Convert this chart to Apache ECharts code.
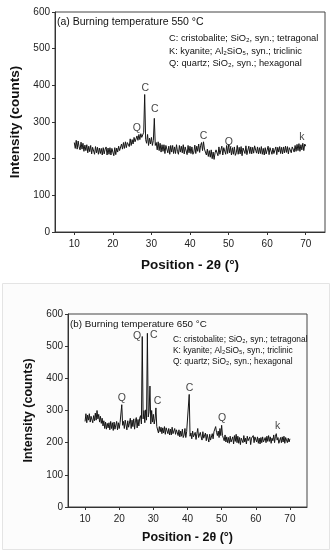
<!DOCTYPE html>
<html><head><meta charset="utf-8">
<script src="https://cdn.jsdelivr.net/npm/echarts@6/dist/echarts.min.js"></script>
<style>html,body{margin:0;padding:0;background:#fff}#c{width:332px;height:550px}</style>
</head><body><div id="c"></div>
<script>
// sampling grid: 10° to 70° every 0.25°
const xStart = 10, xStep = 0.25;

const intensity550 = [
 244,228,250,226, 248,232,224,245, 226,242,220,237, 222,238,216,234,
 219,236,213,231, 230,212,233,216, 231,212,229,214, 228,210,230,213,
 226,232,210,229, 212,230,210,228, 226,208,230,211, 229,218,234,222,
 224,240,226,244, 228,246,230,244, 249,233,254,236, 252,240,258,246,
 244,262,250,266, 252,268,258,262, 272,375,252,242, 266,236,256,240,
 258,236,250,310, 236,244,224,246, 222,242,218,238, 220,238,214,236,
 240,216,234,212, 236,218,236,214, 232,214,238,220, 212,236,218,234,
 216,238,213,232, 230,211,236,216, 234,214,232,212, 218,237,214,234,
 220,240,217,236, 244,222,246,226, 228,210,226,206, 222,204,224,200,
 218,198,216,224, 226,208,232,212, 214,234,210,230, 230,212,236,214,
 238,216,232,210, 230,212,232,209, 216,236,212,231, 213,233,208,229,
 232,214,235,211, 216,234,214,232, 213,231,215,235, 236,215,232,213,
 230,214,233,212, 228,210,230,213, 215,234,211,230, 231,212,229,214,
 216,232,211,231, 218,233,214,231, 213,232,216,234, 217,233,213,230,
 235,216,232,226, 218,236,220,239, 222,241,220,238, 224,242,222,240,
 234
];

const intensity650 = [
 266,290,262,286, 270,290,264,282, 286,262,284,268, 292,270,300,274,
 288,264,282,260, 276,252,268,244, 264,242,260,246, 262,240,266,244,
 262,238,264,242, 246,266,240,262, 244,262,258,318, 254,266,244,270,
 276,240,268,248, 252,276,244,270, 250,274,242,268, 278,246,272,252,
 276,284,258,530, 274,300,262,302, 270,540,280,296, 376,258,300,264,
 288,258,274,308, 250,246,230,250, 234,248,228,246, 230,250,226,246,
 248,228,244,224, 242,224,248,228, 222,244,226,240, 246,222,240,218,
 236,220,242,216, 224,244,216,234, 228,238,350,220, 230,212,236,218,
 214,232,210,228, 244,216,214,232, 218,208,234,214, 212,230,206,226,
 222,202,226,208, 206,228,212,234, 230,250,232,222, 236,216,244,222,
 254,222,214,206, 224,202,218,200, 216,198,220,202, 200,218,196,222,
 204,226,200,220, 198,216,194,214, 218,200,222,202, 214,196,220,206,
 200,218,194,214, 216,222,200,218, 220,202,218,198, 214,196,216,200,
 218,202,196,216, 200,220,204,222, 204,218,198,214, 206,224,200,220,
 228,208,216,198, 194,216,200,218, 202,220,198,216, 218,200,214,202,
 212
];

const xTicks = [10, 20, 30, 40, 50, 60, 70];

const peaks550 = [
 [26.2, 283, 'Q'], [28.4, 392, 'C'], [30.9, 335, 'C'],
 [43.5, 262, 'C'], [50.1, 245, 'Q'], [69.0, 260, 'k']
];
const peaks650 = [
 [20.8, 338, 'Q'], [25.2, 530, 'Q'], [30.1, 535, 'C'],
 [31.2, 330, 'C'], [40.6, 370, 'C'], [50.1, 276, 'Q'], [66.4, 251, 'k']
];

const panelTitles = ['(a) Burning temperature 550 °C', '(b) Burning temperature 650 °C'];
const legendLines = [
 'C: cristobalite; SiO₂, syn.; tetragonal',
 'K: kyanite; Al₂SiO₅, syn.; triclinic',
 'Q: quartz; SiO₂, syn.; hexagonal'
];
const xName = 'Position - 2θ (°)';
const yName = 'Intensity (counts)';

const FONT = '"Liberation Sans", Arial, sans-serif';
const toPairs = arr => arr.map((v, i) => [xStart + i * xStep, v]);

function xAxis(gi, nameGap, fs) {
  return {
    type: 'value', gridIndex: gi, min: 5, max: 75,
    name: xName, nameLocation: 'middle', nameGap: nameGap,
    nameTextStyle: {fontFamily: FONT, fontWeight: 'bold', fontSize: fs, color: '#111'},
    axisLine: {show: true, lineStyle: {color: '#333', width: 1}},
    axisTick: {show: true, length: 3, inside: false, customValues: xTicks, lineStyle: {color: '#333'}},
    axisLabel: {customValues: xTicks, fontFamily: FONT, fontSize: 10, color: '#222', margin: 7},
    splitLine: {show: false}
  };
}
function yAxis(gi, nameGap, fs) {
  return {
    type: 'value', gridIndex: gi, min: 0, max: 600, interval: 100,
    name: yName, nameLocation: 'middle', nameGap: nameGap, nameRotate: 90,
    nameTextStyle: {fontFamily: FONT, fontWeight: 'bold', fontSize: fs, color: '#111'},
    axisLine: {show: true, lineStyle: {color: '#333', width: 1}},
    axisTick: {show: true, length: 3, lineStyle: {color: '#333'}},
    axisLabel: {fontFamily: FONT, fontSize: 10, color: '#222', margin: 5},
    splitLine: {show: false}
  };
}
function lineSeries(idx, data) {
  return {
    type: 'line', xAxisIndex: idx, yAxisIndex: idx, data: toPairs(data),
    showSymbol: false, symbol: 'none', silent: true, animation: false,
    lineStyle: {color: '#151515', width: 1}
  };
}
function peakSeries(idx, data) {
  return {
    type: 'scatter', xAxisIndex: idx, yAxisIndex: idx, data: data,
    symbolSize: 0, silent: true, animation: false,
    label: {show: true, position: 'inside', formatter: p => p.value[2],
      fontFamily: FONT, fontSize: 10.5, color: '#111'}
  };
}
function textEl(x, y, txt, fs) {
  return {type: 'text', left: x, top: y, z: 100, silent: true,
    style: {text: txt, fontFamily: FONT, fontSize: fs, fill: '#111'}};
}

const chart = echarts.init(document.getElementById('c'), null, {renderer: 'canvas'});
chart.setOption({
  animation: false,
  backgroundColor: '#fff',
  grid: [
    {left: 53, right: 7, top: 12, bottom: 318, show: true, borderColor: '#444', borderWidth: 1, backgroundColor: 'transparent'},
    {left: 68, right: 25, top: 314, bottom: 43, show: true, borderColor: '#444', borderWidth: 1, backgroundColor: 'transparent'}
  ],
  xAxis: [xAxis(0, 26, 13.5), xAxis(1, 24, 12.5)],
  yAxis: [yAxis(0, 33, 13.5), yAxis(1, 26, 12.5)],
  series: [
    lineSeries(0, intensity550), peakSeries(0, peaks550),
    lineSeries(1, intensity650), peakSeries(1, peaks650)
  ],
  graphic: [
    {type: 'rect', z: -10, silent: true, shape: {x: 2.5, y: 283.5, width: 327, height: 266},
      style: {fill: '#fcfcfc', stroke: '#e4e4e4', lineWidth: 1}},
    textEl(57, 17, panelTitles[0], 10.5),
    textEl(169, 34, legendLines[0], 9.3),
    textEl(169, 46.5, legendLines[1], 9.3),
    textEl(169, 58.5, legendLines[2], 9.3),
    textEl(70, 319, panelTitles[1], 9.8),
    textEl(173, 335.5, legendLines[0], 8.4),
    textEl(173, 346.5, legendLines[1], 8.4),
    textEl(173, 358, legendLines[2], 8.4)
  ]
});
</script>
</body></html>
